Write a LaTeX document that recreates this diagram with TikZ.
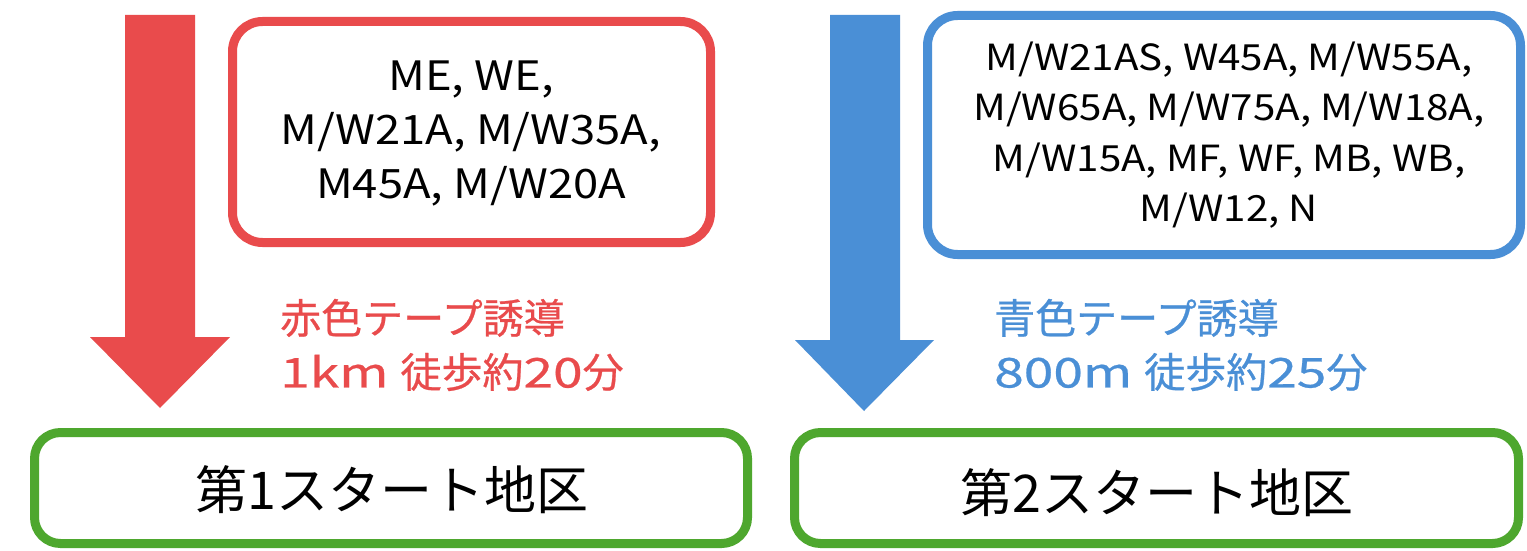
\documentclass[tikz,border=0pt]{standalone}
\usepackage{fontspec}
\setmainfont{Noto Sans CJK JP}
\newfontfamily\listfont{Noto Sans CJK JP}[FakeStretch=1.12]
\newfontfamily\guidefont{Noto Sans CJK JP}[FakeBold=0.6]
\newfontfamily\guidelat{Noto Sans CJK JP}[FakeBold=0.6,FakeStretch=1.3]
\definecolor{cred}{HTML}{E94B4C}
\definecolor{cblue}{HTML}{4A8FD6}
\definecolor{cgreen}{HTML}{4EA72E}
\begin{document}
\begin{tikzpicture}[x=1pt,y=-1pt,
  listbox/.style={draw, line width=9pt, rounded corners=30pt, fill=white, inner sep=0pt},
  startbox/.style={draw=cgreen, line width=9pt, rounded corners=26pt, fill=white, inner sep=0pt},
  starttext/.style={inner sep=0pt, font=\fontsize{52}{60}\selectfont},
  listtext/.style={align=center, inner sep=0pt},
  guide/.style={align=left, anchor=west, inner sep=0pt, font=\guidefont\fontsize{41}{54}\selectfont}
]
\useasboundingbox (0,0) rectangle (1527,551);
\fill[white] (0,0) rectangle (1527,551);

% left column
\fill[cred] (125,15) -- (195,15) -- (195,337) -- (230,337) -- (160,408) -- (90,337) -- (125,337) -- cycle;
\node[listbox, draw=cred, minimum width=478pt, minimum height=221pt] (rbox) at (471.5,132) {};
\node[listtext, font=\listfont\fontsize{40.5}{54}\selectfont] (rtext) at (471,134) {ME, WE,\\M/W21A, M/W35A,\\M45A, M/W20A};
\node[guide, text=cred] (rlab) at (280,345) {赤色テープ誘導\\{\guidelat 1km }徒歩約{\guidelat 20}分};
\node[startbox, minimum width=713pt, minimum height=111pt] (s1) at (391,488) {};
\node[starttext] (s1t) at (392,490) {第1スタート地区};

% right column
\fill[cblue] (830,15) -- (900,15) -- (900,340) -- (934,340) -- (864,411) -- (795,340) -- (830,340) -- cycle;
\node[listbox, draw=cblue, minimum width=593pt, minimum height=239pt] (bbox) at (1224,135) {};
\node[listtext, font=\listfont\fontsize{36}{50.5}\selectfont] (btext) at (1229,135) {M/W21AS, W45A, M/W55A,\\M/W65A, M/W75A, M/W18A,\\M/W15A, MF, WF, MB, WB,\\M/W12, N};
\node[guide, text=cblue] (blab) at (994,345) {青色テープ誘導\\{\guidelat 800m }徒歩約{\guidelat 25}分};
\node[startbox, minimum width=724pt, minimum height=111pt] (s2) at (1156.5,488) {};
\node[starttext] (s2t) at (1157,493) {第2スタート地区};
\end{tikzpicture}
\end{document}
